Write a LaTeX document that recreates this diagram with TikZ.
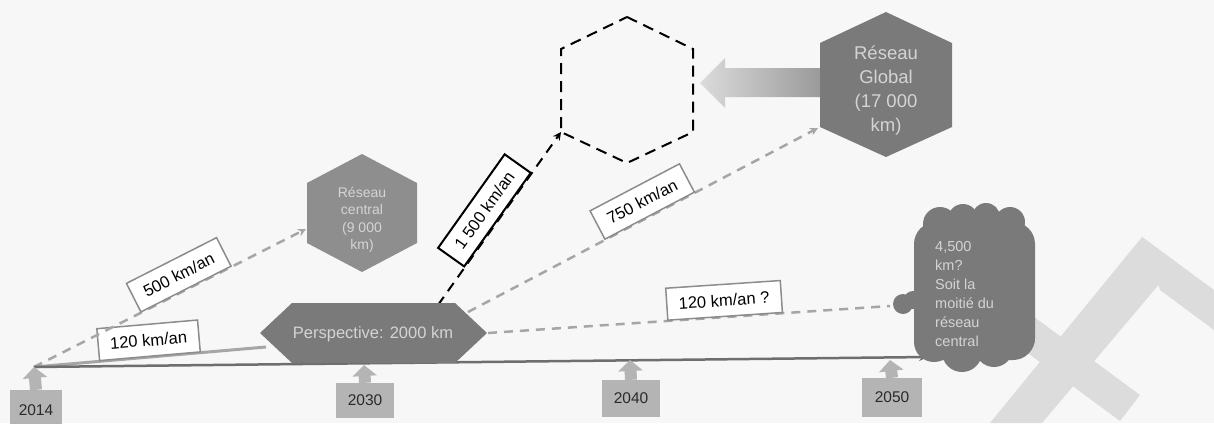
\documentclass[tikz,border=0pt]{standalone}
\usepackage{fontspec}
\setmainfont{Liberation Sans}
\usetikzlibrary{arrows.meta}
\definecolor{bgc}{HTML}{F7F7F7}
\definecolor{darkfill}{HTML}{7A7A7A}
\definecolor{midfill}{HTML}{8E8E8E}
\definecolor{intxt}{HTML}{D4D4D4}
\definecolor{yearc}{HTML}{B4B4B4}
\definecolor{dashc}{HTML}{A6A6A6}
\definecolor{linec}{HTML}{6E6E6E}
\definecolor{wmc}{HTML}{DCDCDC}
\definecolor{boxc}{HTML}{8C8C8C}
\definecolor{yeartxt}{HTML}{2A2A2A}
\begin{document}
\begin{tikzpicture}[x=1pt,y=-1pt,
  lbl/.style={draw=boxc, solid, fill=white, line width=1.5pt, inner xsep=12pt, inner ysep=0pt,
    minimum height=32pt, font=\fontsize{16.5}{19}\selectfont, text=black},
  lblk/.style={lbl, draw=black, line width=2pt},
  dashg/.style={draw=dashc, line width=2.5pt, dash pattern=on 9pt off 7pt,
    -{Stealth[length=8pt,width=8pt]}},
  dashk/.style={draw=black, line width=2pt, dash pattern=on 10pt off 7pt,
    -{Stealth[length=8pt,width=8pt]}},
  solidg/.style={draw=dashc, line width=3pt},
  yearbox/.style={fill=yearc, inner sep=0pt, font=\fontsize{15.5}{18}\selectfont, text=yeartxt},
  yarr/.style={draw=yearc, line width=12pt, -{Triangle[length=11pt,width=24pt]}},
  intext/.style={text=intxt, align=center, inner sep=0pt}
]
\useasboundingbox[fill=bgc] (0,0) rectangle (1214,423);

% watermark
\fill[wmc] (1142,237) -- (1177,263) -- (1042,423) -- (990,423) -- cycle;
\fill[wmc] (1007,297) -- (1140,395) -- (1120,421) -- (987,323) -- cycle;
\fill[wmc] (1142,237) -- (1214,290) -- (1214,330) -- (1160,290) -- cycle;

% anchor coordinates
\coordinate (t14) at (34,367);
\coordinate (tend) at (928,357);
\coordinate (t2030) at (364,365);
\coordinate (t2040) at (630,360);
\coordinate (t2050) at (890,360);
\coordinate (pl) at (266,347);
\coordinate (ptop) at (438,305);
\coordinate (ptr) at (468,312);
\coordinate (pr) at (488,333);
\coordinate (dhll) at (561,132);
\coordinate (glll) at (818,128);
\coordinate (rcw) at (306,229);
\coordinate (clw) at (890,306);
\coordinate (glw) at (822,83);
\coordinate (dhe) at (700,83);

% connectors
\draw[solidg] (t14) -- node[lbl, sloped, above, pos=0.5] {120 km/an} (pl);
\draw[dashg] (t14) -- node[lbl, sloped, above, pos=0.56] {500 km/an} (rcw);
\draw[dashk] (ptop) -- node[lblk, sloped, above, pos=0.49] {1 500 km/an} (dhll);
\draw[dashg] (ptr) -- node[lbl, sloped, above, pos=0.52] {750 km/an} (glll);
\draw[dashg, -] (pr) -- node[lbl, sloped, above, pos=0.59] {120 km/an ?} (clw);

% timeline
\draw[linec, line width=2.5pt, -{Stealth[length=9pt,width=8pt]}] (t14) -- (tend);

% big arrow from Global to dashed hexagon
\shade[left color=black!14, right color=black!40] (dhe) -- (725,58) -- (725,68) -- (glw |- 0,68) -- (glw |- 0,97) -- (725,97) -- (725,108) -- cycle;

% Réseau central
\fill[midfill] (362,154) -- (417,183) -- (417,243) -- (362,272) -- (307,243) -- (307,183) -- cycle;
\node[intext, font=\fontsize{14}{17.5}\selectfont] (rc) at (362,220) {Réseau\\central\\(9 000\\km)};

% Perspective
\fill[darkfill] (260,333) -- (292,303) -- (455,303) -- (487,333) -- (455,363) -- (292,363) -- cycle;
\node[intext, font=\fontsize{16.5}{19}\selectfont] (persp) at (373,334) {Perspective: 2000 km};

% dashed hexagon
\draw[black, line width=2pt, dash pattern=on 11pt off 7pt] (627,17) -- (693,49) -- (693,132) -- (627,163) -- (561,132) -- (561,49) -- cycle;
\node (dh) at (627,90) {};

% Réseau Global
\fill[darkfill] (886,12) -- (952,43) -- (952,127) -- (886,157) -- (820,127) -- (820,43) -- cycle;
\node[intext, font=\fontsize{18.5}{24}\selectfont] (gl) at (886,91) {Réseau\\Global\\(17 000\\km)};

% cloud
\begin{scope}[darkfill]
\fill[rounded corners=22pt] (914,222) rectangle (1035,360);
\fill (940,224) circle (17);
\fill (963,219) circle (15);
\fill (986,217) circle (14);
\fill (1010,222) circle (15);
\fill (934,342) circle (20);
\fill (962,352) circle (20);
\fill (994,348) circle (19);
\fill (1018,338) circle (17);
\fill (903,304) circle (10);
\fill (913,300) circle (9);
\end{scope}
\node[text=intxt, align=left, inner sep=0pt, anchor=north west, font=\fontsize{14.5}{19}\selectfont] (cloud) at (935,241) {4,500\\km?\\Soit la\\moitié du\\réseau\\central};

% years
\node[yearbox, minimum width=52pt, minimum height=40pt] (y14) at (36,410) {2014};
\node[yearbox, minimum width=58pt, minimum height=35pt] (y30) at (365,400.5) {2030};
\node[yearbox, minimum width=58pt, minimum height=37pt] (y40) at (631,398.5) {2040};
\node[yearbox, minimum width=60pt, minimum height=39pt] (y50) at (892,397.5) {2050};
\draw[yarr] (y14.north) -- (t14);
\draw[yarr] (y30.north) -- (t2030);
\draw[yarr] (y40.north) -- (t2040);
\draw[yarr] (y50.north) -- (t2050);
\end{tikzpicture}
\end{document}
